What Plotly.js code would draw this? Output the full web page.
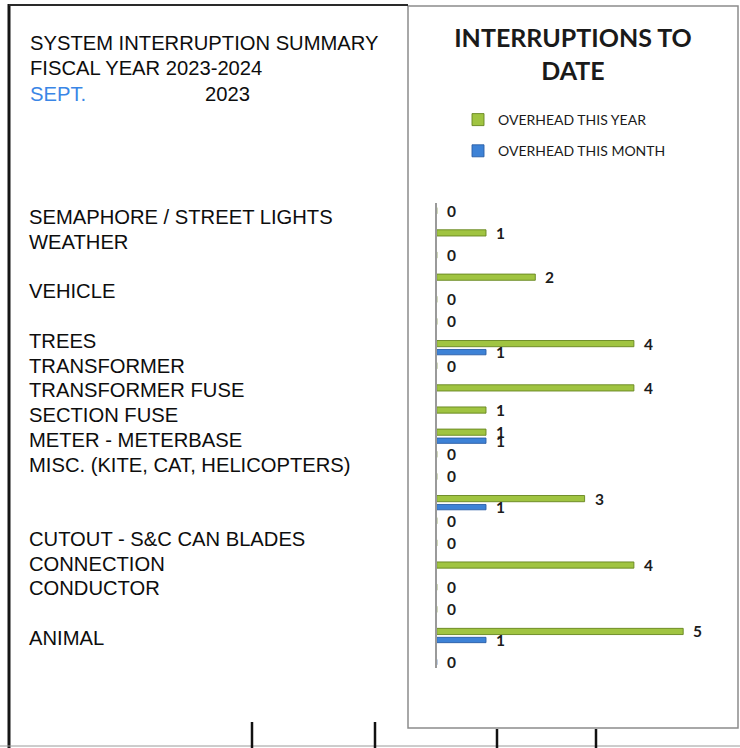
<!DOCTYPE html>
<html>
<head>
<meta charset="utf-8">
<script src="https://cdn.plot.ly/plotly-3.0.1.min.js"></script>
<style>
  html, body { margin: 0; padding: 0; background: #ffffff; }
  #chart { width: 740px; height: 748px; }
</style>
</head>
<body>
<div id="chart"></div>
<script>
// Interruption counts, one entry per chart row (top to bottom).
const rows = [1, 2, 3, 4, 5, 6, 7, 8, 9, 10, 11, 12, 13, 14, 15, 16, 17, 18, 19, 20, 21];
const overheadYear  = [0, 1, 0, 2, 0, 0, 4, 0, 4, 1, 1, 0, 0, 3, 0, 0, 4, 0, 0, 5, null];
const overheadMonth = [null, null, null, null, null, null, 1, null, null, null, 1, null, null, 1, null, null, null, null, null, 1, 0];
const seriesNames = ['OVERHEAD THIS YEAR', 'OVERHEAD THIS MONTH'];

// Cause list printed down the left side of the summary sheet ('' = blank line).
const causes = [
  'SEMAPHORE / STREET LIGHTS', 'WEATHER', '', 'VEHICLE', '', 'TREES',
  'TRANSFORMER', 'TRANSFORMER FUSE', 'SECTION FUSE', 'METER - METERBASE',
  'MISC. (KITE, CAT, HELICOPTERS)', '', '', 'CUTOUT - S&C CAN BLADES',
  'CONNECTION', 'CONDUCTOR', '', 'ANIMAL'
];
const headerLines = ['SYSTEM INTERRUPTION SUMMARY', 'FISCAL YEAR 2023-2024'];
const monthLabel = 'SEPT.';
const yearLabel = '2023';

// ---- page geometry helpers (pixels -> paper fractions) ----
const W = 740, H = 748;
const px = x => x / W;
const py = y => 1 - y / H;

const GREEN = '#a0c441', GREEN_EDGE = '#66861f';
const BLUE = '#3d82d6', BLUE_EDGE = '#2a5ea6';
const GREEN_SHIFT = -0.15, BLUE_SHIFT = 0.235;

const traces = [
  {
    type: 'bar', orientation: 'h', name: seriesNames[0], legendgroup: 'y',
    x: overheadYear, y: rows,
    width: 0.28, offset: GREEN_SHIFT - 0.14,
    marker: { color: GREEN, line: { color: GREEN_EDGE, width: 0.9 } }
  },
  {
    type: 'bar', orientation: 'h', name: seriesNames[1], legendgroup: 'm',
    x: overheadMonth, y: rows,
    width: 0.24, offset: BLUE_SHIFT - 0.12,
    marker: { color: BLUE, line: { color: BLUE_EDGE, width: 0.9 } }
  }
];

const valueFont = { family: 'Lato, "Open Sans", sans-serif', size: 15.5, color: '#1c1c1c', weight: 'bold' };
const annotations = [];

// value labels next to each bar
rows.forEach((r, i) => {
  if (overheadYear[i] !== null) {
    annotations.push({ xref: 'x', yref: 'y', x: overheadYear[i], y: r + GREEN_SHIFT,
      text: String(overheadYear[i]), showarrow: false, xanchor: 'left', yanchor: 'middle',
      xshift: 8, font: valueFont });
  }
  if (overheadMonth[i] !== null) {
    annotations.push({ xref: 'x', yref: 'y', x: overheadMonth[i], y: r + BLUE_SHIFT,
      text: String(overheadMonth[i]), showarrow: false, xanchor: 'left', yanchor: 'middle',
      xshift: 8, font: valueFont });
  }
});

// sheet header
const sheetFont = { family: '"Liberation Sans", Arial, sans-serif', size: 20.2, color: '#0d0d0d' };
headerLines.forEach((t, i) => {
  annotations.push({ xref: 'paper', yref: 'paper', x: px(28), y: py(43 + 25.5 * i),
    text: t, showarrow: false, xanchor: 'left', yanchor: 'middle', font: sheetFont });
});
annotations.push({ xref: 'paper', yref: 'paper', x: px(28), y: py(94), text: monthLabel,
  showarrow: false, xanchor: 'left', yanchor: 'middle',
  font: Object.assign({}, sheetFont, { color: '#3a86e6' }) });
annotations.push({ xref: 'paper', yref: 'paper', x: px(203), y: py(94), text: yearLabel,
  showarrow: false, xanchor: 'left', yanchor: 'middle', font: sheetFont });

// cause list
causes.forEach((t, i) => {
  if (!t) return;
  annotations.push({ xref: 'paper', yref: 'paper', x: px(27), y: py(217 + 24.76 * i),
    text: t, showarrow: false, xanchor: 'left', yanchor: 'middle', font: sheetFont });
});

const shapes = [
  // chart panel
  { type: 'rect', xref: 'paper', yref: 'paper', x0: px(408), x1: px(738), y0: py(728), y1: py(6),
    line: { color: '#8c8c8c', width: 1.5 }, fillcolor: '#ffffff', layer: 'below' },
  // sheet frame
  { type: 'line', xref: 'paper', yref: 'paper', x0: px(9), x1: px(9), y0: py(4), y1: py(748),
    line: { color: '#151515', width: 3 } },
  { type: 'line', xref: 'paper', yref: 'paper', x0: px(9), x1: px(408), y0: py(5), y1: py(5),
    line: { color: '#2a2a2a', width: 2 } },
  { type: 'line', xref: 'paper', yref: 'paper', x0: 0, x1: 1, y0: py(746), y1: py(746),
    line: { color: '#9a9a9a', width: 1 } },
  // table column rules along the bottom edge
  { type: 'line', xref: 'paper', yref: 'paper', x0: px(252), x1: px(252), y0: py(722), y1: py(748),
    line: { color: '#111111', width: 2.5 } },
  { type: 'line', xref: 'paper', yref: 'paper', x0: px(375), x1: px(375), y0: py(722), y1: py(748),
    line: { color: '#111111', width: 2.5 } },
  { type: 'line', xref: 'paper', yref: 'paper', x0: px(497), x1: px(497), y0: py(729), y1: py(748),
    line: { color: '#111111', width: 2.5 } },
  { type: 'line', xref: 'paper', yref: 'paper', x0: px(596), x1: px(596), y0: py(729), y1: py(748),
    line: { color: '#111111', width: 2.5 } }
];

const layout = {
  width: W, height: H, autosize: false,
  margin: { l: 0, r: 0, t: 0, b: 0 },
  paper_bgcolor: '#ffffff', plot_bgcolor: 'rgba(0,0,0,0)',
  barmode: 'overlay',
  title: {
    text: 'INTERRUPTIONS TO<br>DATE',
    font: { family: 'Lato, "Open Sans", sans-serif', size: 25, color: '#1a1a1a', weight: 'bold' },
    x: px(573), xanchor: 'center', xref: 'paper',
    y: py(47), yanchor: 'top', yref: 'paper'
  },
  showlegend: true,
  legend: {
    x: px(458), xanchor: 'left', y: py(104), yanchor: 'top',
    traceorder: 'grouped', tracegroupgap: 10,
    bgcolor: 'rgba(0,0,0,0)', borderwidth: 0,
    font: { family: 'Lato, "Open Sans", sans-serif', size: 14, color: '#1a1a1a' }
  },
  xaxis: {
    domain: [px(436.7), px(436.7 + 6 * 49.3)], range: [0, 6],
    visible: false, fixedrange: true
  },
  yaxis: {
    domain: [py(668), py(203)], range: [21.5, 0.5], type: 'linear',
    showticklabels: false, ticks: '', showgrid: false, zeroline: false,
    showline: true, linecolor: '#9a9a9a', linewidth: 1.5, fixedrange: true
  },
  shapes: shapes,
  annotations: annotations
};

Plotly.newPlot('chart', traces, layout, { staticPlot: true, displayModeBar: false });
</script>
</body>
</html>
